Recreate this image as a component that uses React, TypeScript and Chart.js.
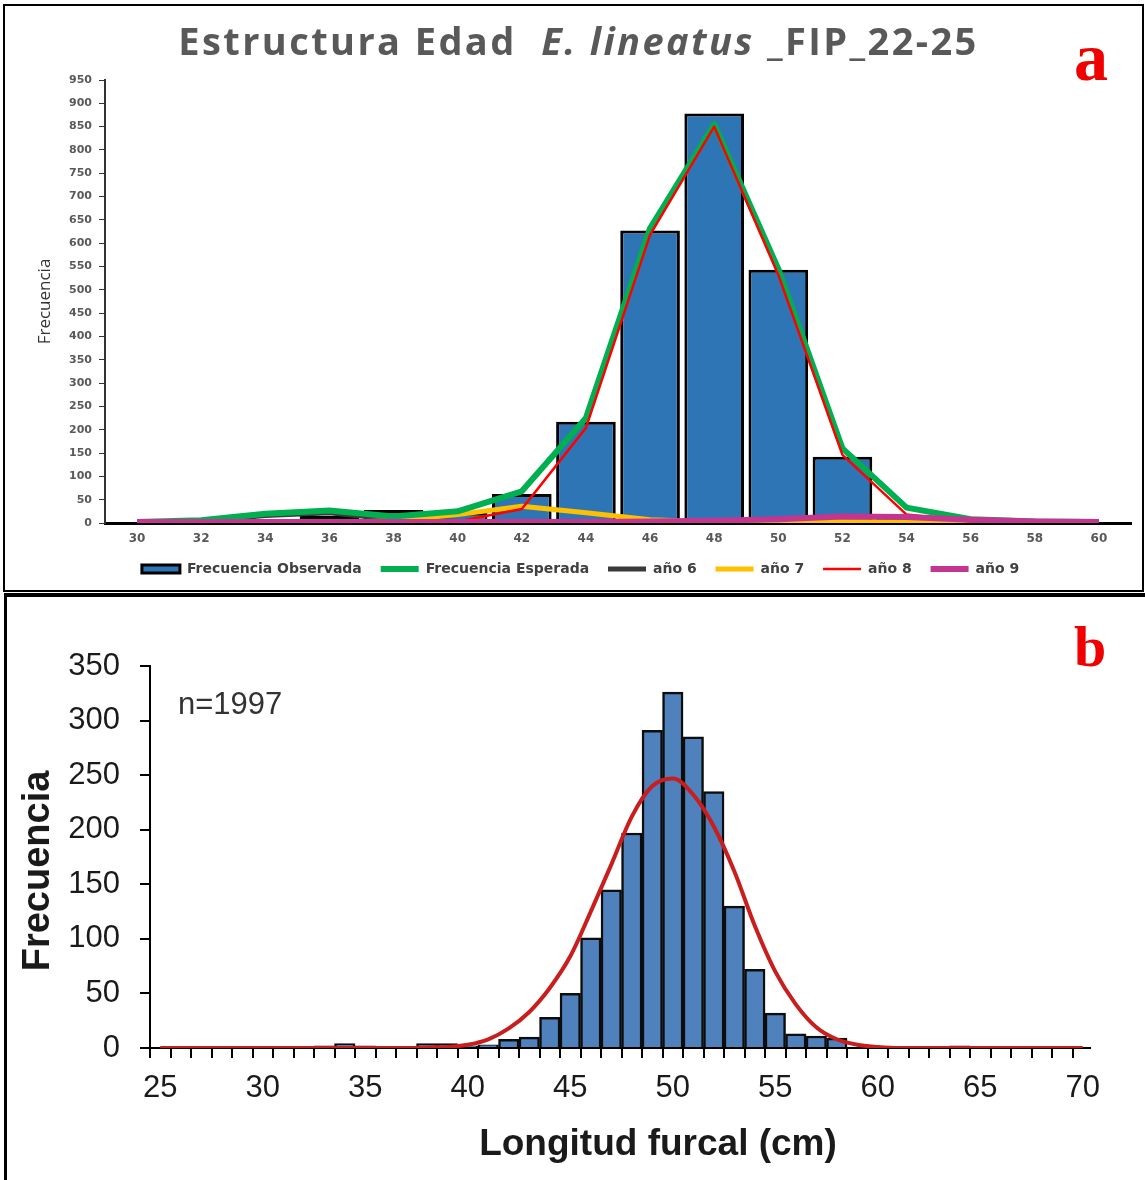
import React, { useEffect, useRef } from "react";
import { Chart, registerables } from "chart.js";

Chart.register(...registerables);

// ---------- Panel a: age structure ----------
const ageLengthLabels = ["30", "32", "34", "36", "38", "40", "42", "44", "46", "48", "50", "52", "54", "56", "58", "60"];
const observedFreq = [0, 5, 3, 15, 28, 22, 62, 217, 627, 878, 543, 142, 15, 0, 0, 0];
const expectedFreq = [2, 6, 20, 27, 14, 25, 68, 225, 632, 855, 545, 160, 33, 8, 3, 2];
const age6Freq = [0, 4, 16, 22, 8, 3, 1, 0, 0, 0, 0, 0, 0, 0, 0, 0];
const age7Freq = [0, 0, 0, 1, 5, 18, 36, 22, 7, 2, 1, 3, 2, 0, 0, 0];
const age8Freq = [0, 0, 0, 0, 0, 3, 30, 204, 618, 850, 532, 146, 18, 3, 1, 0];
const age9Freq = [2, 2, 2, 2, 2, 2, 2, 2, 3, 5, 8, 14, 13, 7, 3, 2];
const freqTicksA = [0, 50, 100, 150, 200, 250, 300, 350, 400, 450, 500, 550, 600, 650, 700, 750, 800, 850, 900, 950];

// ---------- Panel b: length frequency ----------
const furcalLengths = [25, 26, 27, 28, 29, 30, 31, 32, 33, 34, 35, 36, 37, 38, 39, 40, 41, 42, 43, 44, 45, 46, 47, 48, 49, 50, 51, 52, 53, 54, 55, 56, 57, 58, 59, 60, 61, 62, 63, 64, 65, 66, 67, 68, 69, 70];
const lengthFreq = [0, 0, 0, 0, 0, 0, 0, 0, 2, 4, 2, 1, 1, 4, 4, 2, 3, 8, 10, 28, 50, 101, 145, 197, 291, 326, 285, 235, 130, 72, 32, 13, 11, 9, 0, 0, 0, 0, 0, 2, 0, 0, 0, 0, 0, 0];
const normalFit = [0, 0, 0, 0, 0, 0, 0, 0, 0, 0, 0, 0, 0, 0.5, 1, 3, 8, 18, 33, 55, 84, 125, 168, 212, 240, 247, 232, 203, 162, 112, 70, 40, 19, 8, 3, 1, 0, 0, 0, 0, 0, 0, 0, 0, 0, 0];
const lengthTickLabels = [25, 30, 35, 40, 45, 50, 55, 60, 65, 70];
const freqTicksB = [0, 50, 100, 150, 200, 250, 300, 350];

type Area = { left: number; top: number; right: number; bottom: number };

function alignArea(chart: Chart, pad: Area, t: Area) {
  for (let i = 0; i < 5; i++) {
    const a = chart.chartArea;
    const dl = t.left - a.left;
    const dt = t.top - a.top;
    const dr = a.right - t.right;
    const db = a.bottom - t.bottom;
    if (Math.abs(dl) + Math.abs(dt) + Math.abs(dr) + Math.abs(db) < 0.3) break;
    pad.left += dl;
    pad.top += dt;
    pad.right += dr;
    pad.bottom += db;
    chart.update();
  }
}

export default function App() {
  const refA = useRef<HTMLCanvasElement>(null);
  const refB = useRef<HTMLCanvasElement>(null);

  useEffect(() => {
    const padA = { left: 30, top: 60, right: 10, bottom: 5 };
    const lineDs = (label: string, data: number[], color: string, width: number, order: number) => ({
      type: "line" as const,
      label,
      data,
      borderColor: color,
      backgroundColor: color,
      borderWidth: width,
      pointRadius: 0,
      pointHoverRadius: 0,
      tension: 0,
      fill: false,
      order,
      borderJoinStyle: "round" as const,
    });
    const chartA = new Chart(refA.current!, {
      type: "bar",
      data: {
        labels: ageLengthLabels,
        datasets: [
          {
            type: "bar",
            label: "Frecuencia Observada",
            data: observedFreq,
            backgroundColor: "#2e75b6",
            borderColor: "#000000",
            borderWidth: 3,
            barPercentage: 0.93,
            categoryPercentage: 1,
            order: 5,
          } as any,
          lineDs("Frecuencia Esperada", expectedFreq, "#00b050", 6, 2),
          lineDs("año 6", age6Freq, "#3a3a3a", 5, 4),
          lineDs("año 7", age7Freq, "#ffc000", 5, 3),
          lineDs("año 8", age8Freq, "#ff0000", 2.5, 1),
          lineDs("año 9", age9Freq, "#c2368f", 6, 0),
        ],
      },
      options: {
        responsive: false,
        animation: false,
        events: [],
        layout: { padding: padA },
        plugins: {
          tooltip: { enabled: false },
          title: { display: false },
          legend: {
            position: "bottom",
            labels: {
              usePointStyle: true,
              pointStyleWidth: 38,
              boxHeight: 8,
              padding: 14,
              color: "#404040",
              font: { family: "DejaVu Sans", size: 14, weight: "bold" },
              sort: (a: any, b: any) => a.datasetIndex - b.datasetIndex,
              generateLabels: (chart: any) => {
                const items = Chart.defaults.plugins.legend.labels.generateLabels(chart);
                items.forEach((it: any) => {
                  const ds: any = chart.data.datasets[it.datasetIndex];
                  it.text = ds.label + " ";
                  it.pointStyle = it.datasetIndex === 0 ? "rect" : "line";
                  it.lineWidth = ds.borderWidth;
                  it.strokeStyle = ds.borderColor;
                  it.fillStyle = ds.backgroundColor;
                });
                return items;
              },
            },
          },
        },
        scales: {
          x: {
            afterFit: (s: any) => {
              s.height = 25;
            },
            grid: { display: true, drawOnChartArea: false, drawTicks: false },
            border: { display: true, color: "#000000", width: 3 },
            ticks: {
              color: "#595959",
              font: { family: "DejaVu Sans", size: 12, weight: "bold" },
              padding: 9,
              maxRotation: 0,
              autoSkip: false,
            },
          },
          y: {
            min: 0,
            max: 950,
            afterBuildTicks: (s: any) => {
              s.ticks = freqTicksA.map((v) => ({ value: v }));
            },
            afterFit: (s: any) => {
              s.width = 70;
            },
            grid: { display: true, drawOnChartArea: false, drawTicks: true, tickLength: 6, color: "#333333", lineWidth: 1 },
            border: { display: true, color: "#333333", width: 2 },
            ticks: {
              color: "#595959",
              font: { family: "DejaVu Sans", size: 11, weight: "bold" },
              padding: 7,
            },
            title: {
              display: true,
              text: "Frecuencia",
              color: "#333333",
              font: { family: "Open Sans", size: 17 },
              padding: { top: 0, bottom: 0 },
            },
          },
        },
      } as any,
    });
    alignArea(chartA, padA, { left: 100, top: 74, right: 1126, bottom: 517 });

    const padB = { left: 0, top: 30, right: 50, bottom: 0 };
    const chartB = new Chart(refB.current!, {
      type: "bar",
      data: {
        datasets: [
          {
            type: "line",
            label: "Ajuste normal",
            data: furcalLengths.map((x, i) => ({ x, y: normalFit[i] })),
            borderColor: "#c81e1e",
            borderWidth: 4,
            pointRadius: 0,
            pointHoverRadius: 0,
            cubicInterpolationMode: "monotone",
            fill: false,
            order: 0,
          } as any,
          {
            type: "bar",
            label: "Frecuencia",
            data: furcalLengths.map((x, i) => ({ x, y: lengthFreq[i] })),
            backgroundColor: "#4f81bd",
            borderColor: "#0d0d0d",
            borderWidth: 2.5,
            barPercentage: 1,
            categoryPercentage: 1,
            order: 1,
          } as any,
        ],
      },
      options: {
        responsive: false,
        animation: false,
        events: [],
        layout: { padding: padB },
        plugins: {
          tooltip: { enabled: false },
          legend: { display: false },
        },
        scales: {
          x: {
            type: "linear",
            min: 24.5,
            max: 70.35,
            offset: false,
            afterBuildTicks: (s: any) => {
              s.ticks = furcalLengths.map((v) => ({ value: v }));
            },
            afterFit: (s: any) => {
              s.height = 132;
            },
            grid: { display: true, drawOnChartArea: false, drawTicks: true, tickLength: 10, color: "#000000", lineWidth: 2 },
            border: { display: true, color: "#000000", width: 2 },
            ticks: {
              autoSkip: false,
              maxRotation: 0,
              padding: 12,
              color: "#1a1a1a",
              font: { family: "Liberation Sans", size: 31 },
              callback: (v: any) => (lengthTickLabels.includes(Number(v)) ? String(v) : ""),
            },
          },
          y: {
            min: 0,
            max: 350,
            afterBuildTicks: (s: any) => {
              s.ticks = freqTicksB.map((v) => ({ value: v }));
            },
            afterFit: (s: any) => {
              s.width = 142;
            },
            grid: { display: true, drawOnChartArea: false, drawTicks: true, tickLength: 10, color: "#000000", lineWidth: 2 },
            border: { display: true, color: "#000000", width: 2 },
            ticks: {
              padding: 20,
              color: "#1a1a1a",
              font: { family: "Liberation Sans", size: 31 },
            },
          },
        },
      } as any,
    });
    alignArea(chartB, padB, { left: 142, top: 66, right: 1082, bottom: 448 });

    return () => {
      chartA.destroy();
      chartB.destroy();
    };
  }, []);

  return (
    <div style={{ position: "absolute", left: 0, top: 0, width: 1145, height: 1180, background: "#ffffff", overflow: "hidden" }}>
      <div style={{ position: "absolute", left: 3, top: 4, width: 1141, height: 588, border: "2px solid #000", boxSizing: "border-box" }} />
      <div style={{ position: "absolute", left: 4, top: 593, width: 1145, height: 600, borderTop: "4px solid #000", borderLeft: "3px solid #000", boxSizing: "border-box" }} />
      <canvas ref={refA} width={1137} height={583} style={{ position: "absolute", left: 5, top: 6 }} />
      <canvas ref={refB} width={1137} height={580} style={{ position: "absolute", left: 8, top: 600 }} />
      <div
        style={{
          position: "absolute",
          left: 0,
          top: 21,
          width: 1157,
          textAlign: "center",
          fontFamily: '"Open Sans"',
          fontWeight: 700,
          fontSize: 38,
          lineHeight: "38px",
          letterSpacing: "2.4px",
          color: "#595959",
          whiteSpace: "pre",
        }}
      >
        Estructura Edad  <i>E. lineatus</i> _FIP_22-25
      </div>
      <div style={{ position: "absolute", left: 1074, top: 23, fontFamily: '"Liberation Serif"', fontWeight: 700, fontSize: 68, lineHeight: "68px", color: "#f00000" }}>a</div>
      <div style={{ position: "absolute", left: 1074, top: 618, fontFamily: '"Liberation Serif"', fontWeight: 700, fontSize: 58, lineHeight: "58px", color: "#f00000" }}>b</div>
      <div style={{ position: "absolute", left: 178, top: 688, fontFamily: '"Liberation Sans"', fontSize: 31, lineHeight: "31px", color: "#333333" }}>n=1997</div>
      <div
        style={{
          position: "absolute",
          left: 358,
          top: 1124,
          width: 600,
          textAlign: "center",
          fontFamily: '"Liberation Sans"',
          fontWeight: 700,
          fontSize: 37,
          lineHeight: "37px",
          color: "#1a1a1a",
          whiteSpace: "nowrap",
        }}
      >
        Longitud furcal (cm)
      </div>
      <div
        style={{
          position: "absolute",
          left: -114,
          top: 849,
          width: 300,
          height: 44,
          textAlign: "center",
          fontFamily: '"Liberation Sans"',
          fontWeight: 700,
          fontSize: 38,
          lineHeight: "44px",
          color: "#1a1a1a",
          transform: "rotate(-90deg)",
          whiteSpace: "nowrap",
        }}
      >
        Frecuencia
      </div>
    </div>
  );
}
